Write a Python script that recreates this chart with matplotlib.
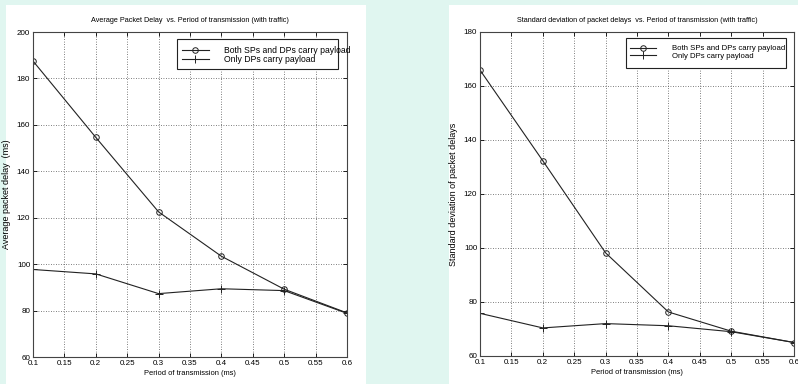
import matplotlib
matplotlib.use("Agg")
import matplotlib.pyplot as plt
from matplotlib.patches import Rectangle

period = [0.1, 0.2, 0.3, 0.4, 0.5, 0.6]

# average packet delay (ms)
avg_both = [187.5, 154.6, 122.5, 103.4, 89.2, 79.0]
avg_dp_only = [97.7, 95.8, 87.3, 89.4, 88.6, 78.8]

# standard deviation of packet delays
std_both = [165.9, 132.3, 98.2, 76.3, 69.2, 65.0]
std_dp_only = [75.8, 70.4, 72.0, 71.2, 69.0, 65.0]

xticks = [0.1, 0.15, 0.2, 0.25, 0.3, 0.35, 0.4, 0.45, 0.5, 0.55, 0.6]
xticklabels = ["0.1", "0.15", "0.2", "0.25", "0.3", "0.35", "0.4", "0.45", "0.5", "0.55", "0.6"]

plt.rcParams["font.family"] = ["Liberation Sans", "DejaVu Sans"]

W, H = 798, 384
fig = plt.figure(figsize=(W / 100, H / 100), dpi=100)
fig.patch.set_facecolor("#e0f6f0")

# white panels behind each plot
for (x0, x1) in [(6, 366), (449, 798)]:
    fig.patches.append(Rectangle((x0 / W, 0), (x1 - x0) / W, (H - 5) / H,
                                 transform=fig.transFigure, facecolor="white",
                                 edgecolor="none", zorder=-10))


def make_axes(left, right, top, bottom):
    return fig.add_axes([left / W, 1 - bottom / H, (right - left) / W, (bottom - top) / H])


def draw(ax, both, dp_only, ylim, title, ylabel, box, anchor, legsize):
    ax.plot(period, both, color="#222222", lw=0.8, marker="o", ms=4,
            mfc="none", mec="#222222", mew=0.7,
            label="Both SPs and DPs carry payload")
    ax.plot(period, dp_only, color="#222222", lw=0.8, marker="+", ms=6,
            mew=0.7, label="Only DPs carry payload")
    ax.set_xlim(0.1, 0.6)
    ax.set_ylim(*ylim)
    ax.set_xticks(xticks)
    ax.set_xticklabels(xticklabels)
    ax.set_yticks(range(ylim[0], ylim[1] + 1, 20))
    ax.grid(True, color="#555555", ls=(0, (1, 2)), lw=0.6)
    ax.tick_params(direction="in", length=3, labelsize=5.8, width=0.6,
                   top=True, right=True, pad=2)
    for s in ax.spines.values():
        s.set_linewidth(0.8)
        s.set_color("#444444")
    ax.set_title(title, fontsize=5.2, pad=7)
    ax.set_xlabel("Period of transmission (ms)", fontsize=5.4, labelpad=2)
    ax.set_ylabel(ylabel, fontsize=6.5, labelpad=4)

    # legend box is narrower than its text, so draw the frame separately
    x0, y0, x1, y1 = box
    ax.add_patch(Rectangle((x0, y0), x1 - x0, y1 - y0, transform=ax.transAxes,
                           facecolor="white", edgecolor="#222222", lw=0.8,
                           zorder=4, clip_on=False))
    # keep the handle about 26 px long and the gap to the text about 15 px
    leg = ax.legend(loc="upper left", bbox_to_anchor=anchor, fontsize=legsize,
                    frameon=False, borderpad=0, borderaxespad=0,
                    labelspacing=0.0, handlelength=19.0 / legsize,
                    handletextpad=11.2 / legsize)
    leg.set_zorder(5)


ax1 = make_axes(33, 347, 32, 357)
draw(ax1, avg_both, avg_dp_only, (60, 200),
     "Average Packet Delay  vs. Period of transmission (with traffic)",
     "Average packet delay  (ms)",
     (0.459, 0.886, 0.971, 0.978), (0.475, 0.957), 6.2)

ax2 = make_axes(480, 794, 32, 356)
draw(ax2, std_both, std_dp_only, (60, 180),
     "Standard deviation of packet delays  vs. Period of transmission (with traffic)",
     "Standard deviation of packet delays",
     (0.465, 0.889, 0.975, 0.982), (0.478, 0.960), 5.6)

fig.savefig("out.png", dpi=100, facecolor=fig.get_facecolor())
